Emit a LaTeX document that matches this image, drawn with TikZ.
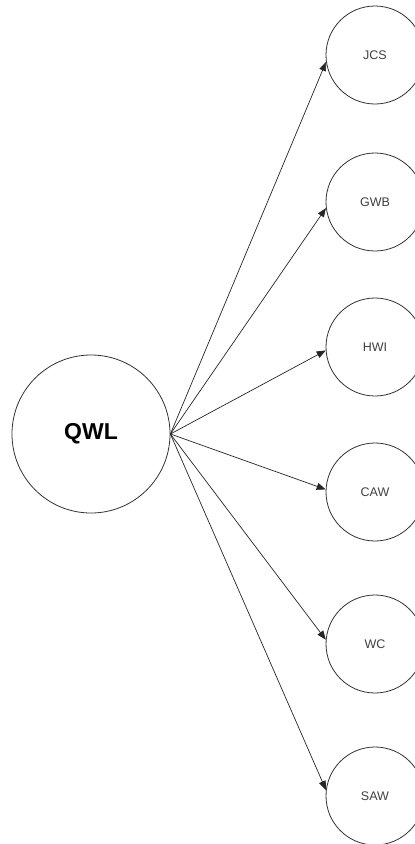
\documentclass[tikz,border=0pt]{standalone}
\usepackage{fontspec}
\setmainfont{Liberation Sans}
\usetikzlibrary{arrows.meta}
\begin{document}
\begin{tikzpicture}[x=1pt,y=-1pt,
  hub/.style={draw=black!80,line width=0.8pt,circle,minimum size=158pt,inner sep=0pt,
    font=\fontsize{23}{26}\selectfont\bfseries},
  leaf/.style={draw=black!80,line width=0.8pt,circle,minimum size=98pt,inner sep=0pt,
    text=black!75,font=\fontsize{12.5}{14}\selectfont},
  link/.style={draw=black!85,line width=0.7pt,-{Triangle[length=9pt,width=7pt]}}]
  \fill[white] (0,0) rectangle (415,844);
  \useasboundingbox (0,0) rectangle (415,844);
  \clip (0,0) rectangle (415,844);

  \node[hub] (qwl) at (91,434) {QWL};

  \node[leaf] (jcs) at (375,55)  {JCS};
  \node[leaf] (gwb) at (375,202) {GWB};
  \node[leaf] (hwi) at (375,347) {HWI};
  \node[leaf] (caw) at (375,492) {CAW};
  \node[leaf] (wc)  at (375,644) {WC};
  \node[leaf] (saw) at (375,796) {SAW};

  \draw[link] (qwl.east) -- (jcs.188);
  \draw[link] (qwl.east) -- (gwb.187);
  \draw[link] (qwl.east) -- (hwi.184);
  \draw[link] (qwl.east) -- (caw.177);
  \draw[link] (qwl.east) -- (wc.175);
  \draw[link] (qwl.east) -- (saw.173);
\end{tikzpicture}
\end{document}
